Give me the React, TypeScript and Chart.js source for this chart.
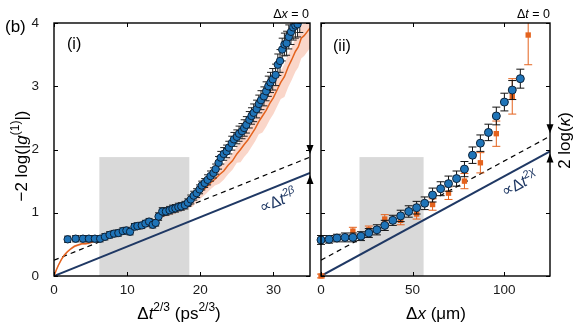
import React, { useEffect, useRef } from "react";
import { Chart, registerables } from "chart.js";

Chart.register(...registerables);

const FONT = "'Liberation Sans', Arial, Helvetica, sans-serif";
Chart.defaults.font.family = FONT;

// ---------------- Panel (i): -2 log|g1| vs Δt^(2/3), Δx = 0 ----------------
const X_MAX_I = 35;
const Y_MAX = 4;
const xTicksI = [0, 10, 20, 30];
const yTicks = [0, 1, 2, 3, 4];

// measured (blue circles)
const tX = [
  1.87, 2.96, 3.96, 4.77, 5.59, 6.31, 6.96, 7.6, 8.2, 8.8,
  9.4, 9.9, 10.4, 11.0, 11.4, 12.0, 12.5, 13.0, 13.5, 13.9,
  14.3, 14.8, 15.3, 15.8, 16.2, 16.6, 17.0, 17.4, 17.9, 18.3,
  18.7, 19.1, 19.5, 19.9, 20.2, 20.6, 21.0, 21.4, 21.8, 22.1,
  22.5, 22.8, 23.2, 23.6, 23.9, 24.3, 24.6, 25.0, 25.3, 25.7,
  26.0, 26.3, 26.7, 27.0, 27.3, 27.7, 28.0, 28.3, 28.7, 29.0,
  29.3, 29.6, 29.9, 30.3, 30.6, 30.9, 31.2, 31.5, 31.8, 32.1,
  32.4, 32.7, 33.0, 33.3, 33.6,
];
const tY = [
  0.58, 0.59, 0.59, 0.59, 0.59, 0.59, 0.62, 0.65, 0.67, 0.68,
  0.71, 0.72, 0.70, 0.78, 0.79, 0.80, 0.83, 0.86, 0.81, 0.84,
  0.94, 1.02, 1.02, 1.04, 1.06, 1.07, 1.09, 1.10, 1.12, 1.16,
  1.21, 1.27, 1.31, 1.37, 1.43, 1.47, 1.52, 1.58, 1.63, 1.69,
  1.79, 1.87, 1.93, 1.97, 2.03, 2.10, 2.16, 2.20, 2.25, 2.29,
  2.34, 2.39, 2.47, 2.53, 2.58, 2.64, 2.72, 2.78, 2.84, 2.92,
  3.00, 3.06, 3.11, 3.18, 3.34, 3.40, 3.58, 3.66, 3.68, 3.78,
  3.86, 3.93, 3.96, 3.98, 4.05,
];
const tErr = [
  0.05, 0.05, 0.05, 0.05, 0.05, 0.05, 0.05, 0.05, 0.05, 0.05,
  0.05, 0.05, 0.05, 0.05, 0.05, 0.05, 0.05, 0.05, 0.05, 0.05,
  0.06, 0.06, 0.06, 0.06, 0.06, 0.06, 0.06, 0.06, 0.06, 0.06,
  0.07, 0.07, 0.07, 0.07, 0.07, 0.07, 0.08, 0.08, 0.08, 0.08,
  0.1, 0.1, 0.1, 0.1, 0.1, 0.11, 0.11, 0.11, 0.12, 0.12,
  0.13, 0.13, 0.13, 0.13, 0.14, 0.14, 0.14, 0.15, 0.15, 0.15,
  0.16, 0.16, 0.17, 0.17, 0.17, 0.18, 0.18, 0.18, 0.19, 0.19,
  0.2, 0.2, 0.2, 0.2, 0.2,
];

// simulation (orange line with shaded band)
const simX = [
  0, 0.3, 0.6, 1.0, 1.4, 1.8, 2.3, 2.8, 3.3, 3.8,
  4.3, 4.8, 5.3, 5.8, 6.4, 7.0, 7.6, 8.2, 8.8, 9.4,
  10.0, 10.6, 11.2, 11.8, 12.4, 13.0, 13.6, 14.0, 14.3, 14.8,
  15.4, 16.0, 16.6, 17.2, 17.8, 18.4, 19.0, 19.6, 20.2, 20.8,
  21.4, 22.0, 22.6, 23.2, 23.8, 24.4, 25.0, 25.5, 26.0, 26.5,
  27.0, 27.5, 28.0, 28.5, 29.0, 29.5, 30.0, 30.5, 31.0, 31.5,
  32.0, 32.5, 33.0, 33.4, 33.8, 34.2, 34.6, 35.0,
];
const simY = [
  0, 0.09, 0.17, 0.26, 0.33, 0.38, 0.43, 0.47, 0.49, 0.51,
  0.51, 0.52, 0.54, 0.56, 0.58, 0.61, 0.63, 0.66, 0.67, 0.69,
  0.71, 0.73, 0.76, 0.78, 0.81, 0.83, 0.80, 0.83, 0.93, 0.98,
  1.00, 1.02, 1.05, 1.07, 1.10, 1.13, 1.20, 1.28, 1.34, 1.40,
  1.47, 1.53, 1.60, 1.66, 1.75, 1.82, 1.93, 2.00, 2.08, 2.15,
  2.24, 2.33, 2.44, 2.53, 2.62, 2.73, 2.82, 2.94, 3.06, 3.15,
  3.30, 3.42, 3.55, 3.62, 3.76, 3.80, 3.86, 3.92,
];
const simHigh = [
  0.02, 0.11, 0.19, 0.28, 0.35, 0.40, 0.45, 0.49, 0.51, 0.53,
  0.53, 0.54, 0.56, 0.58, 0.61, 0.64, 0.66, 0.69, 0.70, 0.72,
  0.74, 0.76, 0.79, 0.81, 0.84, 0.86, 0.83, 0.86, 1.00, 1.05,
  1.07, 1.09, 1.12, 1.14, 1.17, 1.20, 1.29, 1.37, 1.43, 1.49,
  1.56, 1.62, 1.72, 1.78, 1.87, 1.94, 2.05, 2.15, 2.23, 2.30,
  2.39, 2.48, 2.59, 2.71, 2.80, 2.91, 3.00, 3.12, 3.24, 3.35,
  3.50, 3.62, 3.75, 3.82, 3.96, 4.00, 4.06, 4.12,
];
const simLow = [
  0, 0.07, 0.15, 0.24, 0.31, 0.36, 0.41, 0.45, 0.47, 0.49,
  0.49, 0.50, 0.52, 0.54, 0.55, 0.58, 0.60, 0.63, 0.64, 0.66,
  0.68, 0.70, 0.73, 0.75, 0.78, 0.80, 0.77, 0.80, 0.87, 0.92,
  0.94, 0.96, 0.99, 1.01, 1.04, 1.07, 1.10, 1.18, 1.24, 1.30,
  1.37, 1.43, 1.46, 1.52, 1.61, 1.68, 1.79, 1.80, 1.88, 1.95,
  2.04, 2.13, 2.24, 2.27, 2.36, 2.47, 2.56, 2.68, 2.80, 2.83,
  2.98, 3.10, 3.23, 3.30, 3.44, 3.48, 3.54, 3.60,
];

// guide lines: values at x = 0 and x = X_MAX_I
const dashedI = [0.25, 1.88];
const powerI = [0, 1.63];
const shadeI = [6.2, 18.5, 1.88];

// ---------------- Panel (ii): 2 log κ vs Δx, Δt = 0 ----------------
const X_MAX_II = 125;
const xTicksII = [0, 50, 100];

const dxX = [
  0, 4.4, 8.7, 13.1, 17.4, 21.8, 26.1, 30.5, 34.8, 39.2,
  43.5, 47.9, 52.2, 56.6, 60.9, 65.3, 69.6, 74.0, 78.3, 82.7,
  87.0, 91.4, 95.7, 100.1, 104.4, 108.8,
];
const dxY = [
  0.57, 0.58, 0.60, 0.61, 0.61, 0.63, 0.68, 0.73, 0.80, 0.88,
  0.95, 1.02, 1.08, 1.15, 1.28, 1.38, 1.46, 1.54, 1.69, 1.91,
  2.10, 2.27, 2.53, 2.75, 2.94, 3.12,
];
const dxErr = [
  0.07, 0.06, 0.06, 0.07, 0.07, 0.07, 0.07, 0.08, 0.08, 0.08,
  0.09, 0.09, 0.1, 0.1, 0.11, 0.11, 0.12, 0.12, 0.12, 0.13,
  0.13, 0.13, 0.14, 0.14, 0.15, 0.15,
];
const dxOX = [0, 17.4, 26.1, 34.8, 43.5, 52.2, 60.9, 69.6, 78.3, 87.0, 95.7, 104.4, 113.1];
const dxOY = [0, 0.71, 0.73, 0.90, 0.88, 0.98, 1.13, 1.31, 1.50, 1.79, 2.25, 2.84, 3.81];
const dxOErr = [0.03, 0.06, 0.06, 0.07, 0.07, 0.08, 0.09, 0.1, 0.12, 0.16, 0.2, 0.28, 0.47];

const dashedII = [0.25, 2.21];
const powerII = [0, 1.97];
const shadeII = [21, 56, 1.88];

// ---------------- styles ----------------
const BLUE = "#1f74b8";
const BLUE_EDGE = "#0d2238";
const ORANGE = "#e4631e";
const BAND = "rgba(244,165,135,0.45)";
const NAVY = "#1f3864";
const SHADE = "#d9d9d9";

type Seg = { t: string; sup?: boolean; it?: boolean };

function fontStr(size: number, it?: boolean) {
  return `${it ? "italic " : ""}${size}px ${FONT}`;
}

function drawRich(
  ctx: CanvasRenderingContext2D,
  segs: Seg[],
  x: number,
  y: number,
  size: number,
  align: "left" | "center" | "right",
  rot: number,
  color: string
) {
  ctx.save();
  ctx.translate(x, y);
  if (rot) ctx.rotate(rot);
  ctx.fillStyle = color;
  ctx.textBaseline = "alphabetic";
  ctx.textAlign = "left";
  const supSize = Math.round(size * 0.68);
  let w = 0;
  const widths = segs.map((s) => {
    ctx.font = fontStr(s.sup ? supSize : size, s.it);
    const m = ctx.measureText(s.t).width;
    w += m;
    return m;
  });
  let cx = align === "center" ? -w / 2 : align === "right" ? -w : 0;
  segs.forEach((s, i) => {
    ctx.font = fontStr(s.sup ? supSize : size, s.it);
    ctx.fillText(s.t, cx, s.sup ? -size * 0.42 : 0);
    cx += widths[i];
  });
  ctx.restore();
}

function tri(ctx: CanvasRenderingContext2D, x: number, tip: number, base: number) {
  ctx.beginPath();
  ctx.moveTo(x, tip);
  ctx.lineTo(x - 3.5, base);
  ctx.lineTo(x + 3.5, base);
  ctx.closePath();
  ctx.fill();
}

type Spec = {
  xMax: number;
  xTicks: number[];
  shade: number[];
  dashed: number[];
  power: number[];
  labelAnchor: number;
  labelSegs: Seg[];
  texts: (ctx: CanvasRenderingContext2D) => void;
};

function makePlugin(spec: Spec) {
  return {
    id: "panelDeco",
    beforeDatasetsDraw(chart: any) {
      const { ctx, scales } = chart;
      const x = scales.x, y = scales.y;
      const x0 = x.getPixelForValue(spec.shade[0]);
      const x1 = x.getPixelForValue(spec.shade[1]);
      const yt = y.getPixelForValue(spec.shade[2]);
      const yb = y.getPixelForValue(0);
      ctx.save();
      ctx.fillStyle = SHADE;
      ctx.fillRect(x0, yt, x1 - x0, yb - yt);
      ctx.restore();
    },
    beforeDatasetDraw(chart: any, args: any) {
      const ds: any = chart.data.datasets[args.index];
      if (!ds.errors) return;
      const { ctx, chartArea: a, scales } = chart;
      const x = scales.x, y = scales.y;
      ctx.save();
      ctx.beginPath();
      ctx.rect(a.left - 10, a.top, a.right - a.left + 20, a.bottom - a.top + 10);
      ctx.clip();
      ctx.strokeStyle = ds.errColor;
      ctx.lineWidth = 1;
      const cap = ds.capW;
      ds.data.forEach((p: any, i: number) => {
        const px = x.getPixelForValue(p.x);
        const yl = y.getPixelForValue(p.y - ds.errors[i]);
        const yh = y.getPixelForValue(p.y + ds.errors[i]);
        ctx.beginPath();
        ctx.moveTo(px, yl);
        ctx.lineTo(px, yh);
        ctx.moveTo(px - cap, yl);
        ctx.lineTo(px + cap, yl);
        ctx.moveTo(px - cap, yh);
        ctx.lineTo(px + cap, yh);
        ctx.stroke();
      });
      ctx.restore();
    },
    afterDraw(chart: any) {
      const { ctx, chartArea: a, scales } = chart;
      const x = scales.x, y = scales.y;
      ctx.save();
      // ticks
      ctx.strokeStyle = "#000";
      ctx.lineWidth = 1;
      ctx.beginPath();
      spec.xTicks.forEach((v) => {
        const px = Math.round(x.getPixelForValue(v)) + 0.5;
        ctx.moveTo(px, a.bottom);
        ctx.lineTo(px, a.bottom - 4);
        ctx.moveTo(px, a.top);
        ctx.lineTo(px, a.top + 4);
      });
      yTicks.forEach((v) => {
        const py = Math.round(y.getPixelForValue(v)) + 0.5;
        ctx.moveTo(a.left, py);
        ctx.lineTo(a.left + 4, py);
        ctx.moveTo(a.right, py);
        ctx.lineTo(a.right - 4, py);
      });
      ctx.stroke();
      // frame
      ctx.lineWidth = 1.4;
      ctx.strokeRect(a.left, a.top, a.right - a.left, a.bottom - a.top);
      // arrows at right edge
      ctx.fillStyle = "#000";
      const yd = y.getPixelForValue(spec.dashed[1]);
      const yp = y.getPixelForValue(spec.power[1]);
      tri(ctx, a.right, yd - 3, yd - 12);
      tri(ctx, a.right, yp + 2, yp + 11);
      // rotated power-law label along the solid line
      const ang = Math.atan2(
        y.getPixelForValue(spec.power[1]) - y.getPixelForValue(spec.power[0]),
        x.getPixelForValue(spec.xMax) - x.getPixelForValue(0)
      );
      const frac = spec.labelAnchor / spec.xMax;
      const lx = x.getPixelForValue(spec.labelAnchor);
      const ly = y.getPixelForValue(spec.power[0] + (spec.power[1] - spec.power[0]) * frac);
      ctx.save();
      ctx.translate(lx, ly);
      ctx.rotate(ang);
      drawRich(ctx, spec.labelSegs, 0, 19, 16, "center", 0, NAVY);
      ctx.restore();
      spec.texts(ctx);
      ctx.restore();
    },
  };
}

function pts(xs: number[], ys: number[]) {
  return xs.map((v, i) => ({ x: v, y: ys[i] }));
}

function lineData(vals: number[], xMax: number) {
  return [
    { x: 0, y: vals[0] },
    { x: xMax, y: vals[1] },
  ];
}

function baseOptions(xMax: number, step: number, yW: number, padRight: number, showY: boolean) {
  return {
    animation: false,
    responsive: false,
    devicePixelRatio: 1,
    layout: { padding: { top: 23, right: padRight, left: 0, bottom: 0 } },
    plugins: { legend: { display: false }, tooltip: { enabled: false } },
    scales: {
      x: {
        type: "linear",
        min: 0,
        max: xMax,
        grid: { display: false },
        border: { display: false },
        ticks: {
          stepSize: step,
          includeBounds: false,
          autoSkip: false,
          maxRotation: 0,
          padding: -2,
          color: "#1a1a1a",
          font: { size: 13.5, family: FONT },
        },
        afterFit: (s: any) => {
          s.height = 48;
        },
      },
      y: {
        type: "linear",
        min: 0,
        max: Y_MAX,
        grid: { display: false },
        border: { display: false },
        ticks: {
          display: showY,
          stepSize: 1,
          includeBounds: false,
          padding: 7,
          color: "#1a1a1a",
          font: { size: 13.5, family: FONT },
        },
        afterFit: (s: any) => {
          s.width = yW;
        },
      },
    },
  };
}

export default function App() {
  const ref1 = useRef<HTMLCanvasElement>(null);
  const ref2 = useRef<HTMLCanvasElement>(null);

  useEffect(() => {
    const pluginI = makePlugin({
      xMax: X_MAX_I,
      xTicks: xTicksI,
      shade: shadeI,
      dashed: dashedI,
      power: powerI,
      labelAnchor: 29.9,
      labelSegs: [{ t: "∝Δ" }, { t: "t", it: true }, { t: "2β", sup: true, it: true }],
      texts: (ctx) => {
        drawRich(ctx, [{ t: "(b)" }], 5, 32, 17, "left", 0, "#000");
        drawRich(ctx, [{ t: "(i)" }], 67, 49, 16, "left", 0, "#000");
        drawRich(ctx, [{ t: "Δ" }, { t: "x", it: true }, { t: " = 0" }], 309, 18, 12.5, "right", 0, "#000");
        drawRich(
          ctx,
          [{ t: "−2 log(|" }, { t: "g", it: true }, { t: "(1)", sup: true }, { t: "|)" }],
          26.5,
          156,
          17,
          "center",
          -Math.PI / 2,
          "#000"
        );
        drawRich(
          ctx,
          [{ t: "Δ" }, { t: "t", it: true }, { t: "2/3", sup: true }, { t: " (ps" }, { t: "2/3", sup: true }, { t: ")" }],
          179,
          318.5,
          17,
          "center",
          0,
          "#000"
        );
      },
    });

    const pluginII = makePlugin({
      xMax: X_MAX_II,
      xTicks: xTicksII,
      shade: shadeII,
      dashed: dashedII,
      power: powerII,
      labelAnchor: 104.8,
      labelSegs: [{ t: "∝Δ" }, { t: "t", it: true }, { t: "2χ", sup: true, it: true }],
      texts: (ctx) => {
        drawRich(ctx, [{ t: "(ii)" }], 27, 51, 16, "left", 0, "#000");
        drawRich(ctx, [{ t: "Δ" }, { t: "t", it: true }, { t: " = 0" }], 244, 18, 12.5, "right", 0, "#000");
        drawRich(ctx, [{ t: "Δ" }, { t: "x", it: true }, { t: " (μm)" }], 130, 318.5, 17, "center", 0, "#000");
        drawRich(
          ctx,
          [{ t: "2 log(" }, { t: "κ", it: true }, { t: ")" }],
          263.5,
          140.5,
          17,
          "center",
          -Math.PI / 2,
          "#000"
        );
      },
    });

    const c1 = new Chart(ref1.current as HTMLCanvasElement, {
      type: "scatter",
      data: {
        datasets: [
          {
            data: pts(tX, tY),
            errors: tErr,
            errColor: "#222",
            capW: 3.5,
            backgroundColor: BLUE,
            borderColor: BLUE_EDGE,
            borderWidth: 1,
            pointRadius: 3.7,
            order: 0,
          } as any,
          {
            data: pts(simX, simY),
            showLine: true,
            borderColor: ORANGE,
            borderWidth: 1.5,
            pointRadius: 0,
            order: 1,
          },
          {
            data: lineData(powerI, X_MAX_I),
            showLine: true,
            borderColor: NAVY,
            borderWidth: 2,
            pointRadius: 0,
            order: 2,
          },
          {
            data: lineData(dashedI, X_MAX_I),
            showLine: true,
            borderColor: "#000",
            borderWidth: 1.2,
            borderDash: [5, 4],
            pointRadius: 0,
            order: 3,
          },
          {
            data: pts(simX, simHigh),
            showLine: true,
            borderWidth: 0,
            borderColor: "rgba(0,0,0,0)",
            backgroundColor: BAND,
            fill: "+1",
            pointRadius: 0,
            order: 4,
          },
          {
            data: pts(simX, simLow),
            showLine: true,
            borderWidth: 0,
            borderColor: "rgba(0,0,0,0)",
            pointRadius: 0,
            fill: false,
            order: 5,
          },
        ],
      },
      options: baseOptions(X_MAX_I, 10, 54, 6, true) as any,
      plugins: [pluginI],
    });

    const c2 = new Chart(ref2.current as HTMLCanvasElement, {
      type: "scatter",
      data: {
        datasets: [
          {
            data: pts(dxX, dxY),
            errors: dxErr,
            errColor: "#111",
            capW: 4,
            backgroundColor: BLUE,
            borderColor: BLUE_EDGE,
            borderWidth: 1,
            pointRadius: 4,
            clip: false,
            order: 0,
          } as any,
          {
            data: pts(dxOX, dxOY),
            errors: dxOErr,
            errColor: ORANGE,
            capW: 4,
            pointStyle: "rect",
            backgroundColor: ORANGE,
            borderColor: ORANGE,
            borderWidth: 0,
            pointRadius: 3.8,
            clip: false,
            order: 1,
          } as any,
          {
            data: lineData(powerII, X_MAX_II),
            showLine: true,
            borderColor: NAVY,
            borderWidth: 2,
            pointRadius: 0,
            order: 2,
          },
          {
            data: lineData(dashedII, X_MAX_II),
            showLine: true,
            borderColor: "#000",
            borderWidth: 1.2,
            borderDash: [5, 4],
            pointRadius: 0,
            order: 3,
          },
        ],
      },
      options: baseOptions(X_MAX_II, 50, 15, 26, false) as any,
      plugins: [pluginII],
    });

    return () => {
      c1.destroy();
      c2.destroy();
    };
  }, []);

  return (
    <div style={{ position: "absolute", left: 0, top: 0, width: 576, height: 324, background: "#fff" }}>
      <canvas ref={ref1} width={316} height={324} style={{ position: "absolute", left: 0, top: 0 }} />
      <canvas ref={ref2} width={270} height={324} style={{ position: "absolute", left: 306, top: 0 }} />
    </div>
  );
}
